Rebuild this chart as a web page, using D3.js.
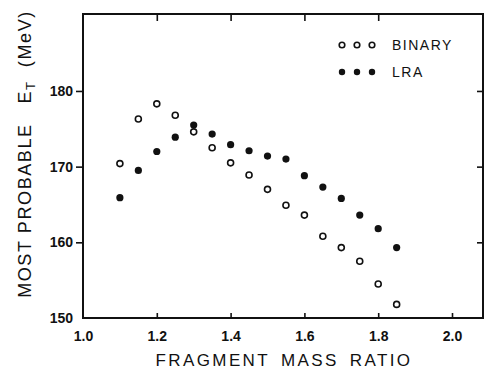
<!DOCTYPE html>
<html><head><meta charset="utf-8">
<script src="https://cdn.jsdelivr.net/npm/d3@7"></script>
<style>body{margin:0;background:#fff}svg{display:block}</style>
</head><body>
<script>
const massRatio = [1.10,1.15,1.20,1.25,1.30,1.35,1.40,1.45,1.50,1.55,1.60,1.65,1.70,1.75,1.80,1.85];
const binaryET = [170.4,176.3,178.3,176.8,174.6,172.5,170.5,168.9,167.0,164.9,163.6,160.8,159.3,157.5,154.5,151.8];
const lraET    = [165.9,169.5,172.0,173.9,175.5,174.3,172.9,172.1,171.4,171.0,168.8,167.3,165.8,163.6,161.8,159.3];
const xTicks = [1.0,1.2,1.4,1.6,1.8,2.0];
const yTicks = [150,160,170,180];
const legendItems = ["BINARY","LRA"];

const W=485,H=376;
const svg=d3.select("body").append("svg").attr("width",W).attr("height",H);
const x=d3.scaleLinear().domain([1.0,2.084]).range([83,483]);
const y=d3.scaleLinear().domain([150,190.17]).range([318,14]);
const ink="#111";
const font="'Liberation Sans', Arial, sans-serif";

// frame
svg.append("rect").attr("x",x(1.0)).attr("y",y(190.17)).attr("width",x(2.084)-x(1.0)).attr("height",y(150)-y(190.17))
  .attr("fill","none").attr("stroke",ink).attr("stroke-width",2);

// left axis
const gl=svg.append("g").attr("transform",`translate(${x(1.0)},0)`)
  .call(d3.axisLeft(y).tickValues(yTicks).tickSize(7).tickPadding(3).tickFormat(d3.format("d")));
// bottom axis
const gb=svg.append("g").attr("transform",`translate(0,${y(150)})`)
  .call(d3.axisBottom(x).tickValues(xTicks).tickSize(-5).tickPadding(13).tickFormat(d3.format(".1f")));
// top axis (inward ticks)
const gt=svg.append("g").attr("transform",`translate(0,${y(190.17)})`)
  .call(d3.axisTop(x).tickValues([1.2,1.4,1.6,1.8]).tickSize(-7).tickFormat(""));
// right axis (inward ticks)
const gr=svg.append("g").attr("transform",`translate(${x(2.084)},0)`)
  .call(d3.axisRight(y).tickValues([160,170,180]).tickSize(-6).tickFormat(""));
[gl,gb,gt,gr].forEach(g=>{
  g.select(".domain").remove();
  g.selectAll(".tick line").attr("stroke",ink).attr("stroke-width",1.6);
  g.selectAll(".tick text").attr("fill",ink).style("font-family",font).style("font-size","14px").style("font-weight","bold");
});
gb.selectAll(".tick").filter(d=>d===1.0).select("line").remove();
gl.selectAll(".tick").filter(d=>d===150).select("line").remove();

// data
svg.append("g").selectAll("circle").data(massRatio).join("circle")
  .attr("cx",d=>x(d)).attr("cy",(d,i)=>y(binaryET[i])).attr("r",3)
  .attr("fill","none").attr("stroke",ink).attr("stroke-width",1.6);
svg.append("g").selectAll("circle").data(massRatio).join("circle")
  .attr("cx",d=>x(d)).attr("cy",(d,i)=>y(lraET[i])).attr("r",3.6)
  .attr("fill",ink);

// legend
const lg=svg.append("g");
legendItems.forEach((name,k)=>{
  const cy=45+k*27;
  [342,357,372].forEach(cx=>{
    lg.append("circle").attr("cx",cx).attr("cy",cy).attr("r",k===0?2.8:3.2)
      .attr("fill",k===0?"none":ink).attr("stroke",ink).attr("stroke-width",k===0?1.6:0);
  });
  lg.append("text").attr("x",392).attr("y",cy+5).text(name)
    .attr("fill",ink).style("font-family",font).style("font-size","14px").style("letter-spacing","1.5px");
});

// axis titles
svg.append("text").attr("x",284).attr("y",366).attr("text-anchor","middle")
  .attr("fill",ink).style("font-family",font).style("font-size","17px").style("letter-spacing","2.4px")
  .style("word-spacing","4px")
  .text("FRAGMENT MASS RATIO");
const yt=svg.append("text").attr("transform","translate(31,154) rotate(-90)").attr("text-anchor","middle")
  .attr("fill",ink).style("font-family",font).style("font-size","18px").style("letter-spacing","1.6px")
  .attr("xml:space","preserve").style("white-space","pre");
yt.append("tspan").text("MOST PROBABLE   E");
yt.append("tspan").attr("dy",4).style("font-size","13px").text("T");
yt.append("tspan").attr("dy",-4).text("  (MeV)");
</script>
</body></html>
